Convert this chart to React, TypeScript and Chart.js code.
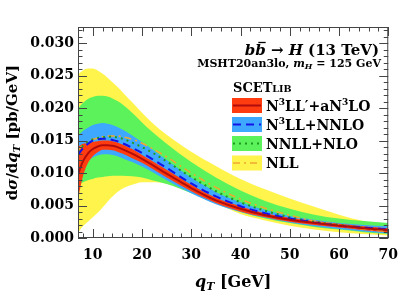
import React, { useEffect, useRef } from "react";
import { Chart, registerables } from "chart.js";
Chart.register(...registerables);

// ---- data ----
const qT = [7, 8, 9, 10, 11, 12, 13, 14, 15, 16, 18, 20, 22, 25, 30, 35, 40, 45, 50, 55, 60, 65, 70];

const n3llpCentral = [0.0098, 0.0118, 0.0130, 0.0137, 0.0141, 0.0143, 0.0143, 0.0142, 0.0140, 0.0137, 0.0130, 0.0122, 0.0113, 0.0099, 0.0077, 0.0058, 0.0045, 0.0035, 0.0028, 0.0023, 0.0019, 0.0015, 0.0012];
const n3llpUpper = [0.0140, 0.0145, 0.0146, 0.0148, 0.0149, 0.0150, 0.0150, 0.0149, 0.0147, 0.0144, 0.0137, 0.0128, 0.0119, 0.0105, 0.0082, 0.0062, 0.0049, 0.0038, 0.0031, 0.0026, 0.0022, 0.0018, 0.0015];
const n3llpLower = [0.0060, 0.0095, 0.0115, 0.0126, 0.0132, 0.0136, 0.0136, 0.0135, 0.0133, 0.0130, 0.0123, 0.0116, 0.0107, 0.0093, 0.0072, 0.0054, 0.0041, 0.0032, 0.0025, 0.0020, 0.0016, 0.0012, 0.0009];

const n3llCentral = [0.0128, 0.0138, 0.0145, 0.0150, 0.0152, 0.0153, 0.0153, 0.0151, 0.0149, 0.0146, 0.0139, 0.0131, 0.0122, 0.0108, 0.0084, 0.0064, 0.0049, 0.0038, 0.0030, 0.0024, 0.0019, 0.0016, 0.0013];
const n3llUpper = [0.0158, 0.0165, 0.0170, 0.0174, 0.0176, 0.0177, 0.0176, 0.0174, 0.0171, 0.0167, 0.0158, 0.0148, 0.0137, 0.0120, 0.0093, 0.0071, 0.0055, 0.0043, 0.0034, 0.0028, 0.0023, 0.0020, 0.0018];
const n3llLower = [0.0095, 0.0108, 0.0118, 0.0124, 0.0127, 0.0129, 0.0129, 0.0128, 0.0126, 0.0123, 0.0117, 0.0110, 0.0102, 0.0089, 0.0069, 0.0052, 0.0040, 0.0031, 0.0024, 0.0018, 0.0014, 0.0010, 0.0007];

const nnllCentral = [0.0133, 0.0142, 0.0148, 0.0152, 0.0154, 0.0155, 0.0156, 0.0156, 0.0155, 0.0153, 0.0147, 0.0140, 0.0132, 0.0118, 0.0094, 0.0072, 0.0055, 0.0042, 0.0032, 0.0025, 0.0020, 0.0016, 0.0012];
const nnllUpper = [0.0200, 0.0208, 0.0214, 0.0217, 0.0219, 0.0219, 0.0218, 0.0215, 0.0211, 0.0206, 0.0193, 0.0178, 0.0164, 0.0145, 0.0117, 0.0093, 0.0073, 0.0057, 0.0045, 0.0036, 0.0030, 0.0026, 0.0023];
const nnllLower = [0.0082, 0.0086, 0.0089, 0.0091, 0.0093, 0.0094, 0.0095, 0.0096, 0.0096, 0.0096, 0.0095, 0.0093, 0.0089, 0.0083, 0.0069, 0.0053, 0.0040, 0.0030, 0.0023, 0.0017, 0.0013, 0.0009, 0.0006];

const nllCentral = [0.0135, 0.0143, 0.0149, 0.0152, 0.0154, 0.0156, 0.0157, 0.0157, 0.0157, 0.0156, 0.0152, 0.0146, 0.0138, 0.0125, 0.0100, 0.0078, 0.0060, 0.0046, 0.0035, 0.0026, 0.0020, 0.0014, 0.0010];
const nllUpper = [0.0252, 0.0258, 0.0261, 0.0261, 0.0258, 0.0253, 0.0247, 0.0240, 0.0233, 0.0225, 0.0209, 0.0193, 0.0178, 0.0159, 0.0133, 0.0111, 0.0091, 0.0075, 0.0061, 0.0048, 0.0036, 0.0026, 0.0019];
const nllLower = [0.0008, 0.0018, 0.0025, 0.0032, 0.0039, 0.0047, 0.0056, 0.0064, 0.0071, 0.0076, 0.0082, 0.0086, 0.0086, 0.0084, 0.0072, 0.0054, 0.0037, 0.0027, 0.0019, 0.0013, 0.0009, 0.0006, 0.0004];

const xTickValues = [10, 20, 30, 40, 50, 60, 70];
const yTickValues = [0, 0.005, 0.01, 0.015, 0.02, 0.025, 0.03];

// ---- styles ----
const SERIF = "'DejaVu Serif', serif";
const F = (size: number, italic = false) => `${italic ? "italic " : ""}bold ${size}px ${SERIF}`;

const C = {
  redBand: "#ff3c10",
  redLine: "#b00c0c",
  blueBand: "#3ea8ff",
  blueLine: "#1414e6",
  greenBand: "#5cf25c",
  greenLine: "#1e9a1e",
  yellowBand: "#fff44c",
  yellowLine: "#f0a830",
};

type Seg = { t: string; f: string; dy?: number; bar?: boolean };

function segWidth(ctx: CanvasRenderingContext2D, segs: Seg[]) {
  let w = 0;
  for (const s of segs) {
    ctx.font = s.f;
    w += ctx.measureText(s.t).width;
  }
  return w;
}

function drawSegs(ctx: CanvasRenderingContext2D, segs: Seg[], x: number, y: number, align: "left" | "right" | "center") {
  const w = segWidth(ctx, segs);
  let cx = align === "left" ? x : align === "right" ? x - w : x - w / 2;
  ctx.textAlign = "left";
  ctx.textBaseline = "alphabetic";
  for (const s of segs) {
    ctx.font = s.f;
    const sw = ctx.measureText(s.t).width;
    ctx.fillText(s.t, cx, y + (s.dy || 0));
    if (s.bar) {
      ctx.save();
      ctx.lineWidth = 1.3;
      ctx.strokeStyle = "#000";
      ctx.beginPath();
      ctx.moveTo(cx + sw * 0.3, y - 12.5);
      ctx.lineTo(cx + sw * 1.0, y - 12.5);
      ctx.stroke();
      ctx.restore();
    }
    cx += sw;
  }
}

const decorPlugin = {
  id: "decor",
  afterDraw(chart: any) {
    const ctx: CanvasRenderingContext2D = chart.ctx;
    const { left, right, top, bottom } = chart.chartArea;
    const xs = chart.scales.x;
    const ys = chart.scales.y;
    ctx.save();
    ctx.fillStyle = "#000";

    // frame + inward ticks
    ctx.strokeStyle = "#444";
    ctx.lineWidth = 1;
    ctx.strokeRect(left + 0.5, top + 0.5, right - left - 1, bottom - top - 1);
    ctx.beginPath();
    for (let v = 8; v <= 70; v += 2) {
      const px = Math.round(xs.getPixelForValue(v)) + 0.5;
      const len = v % 10 === 0 ? 9 : 4.5;
      ctx.moveTo(px, bottom);
      ctx.lineTo(px, bottom - len);
      ctx.moveTo(px, top);
      ctx.lineTo(px, top + len);
    }
    for (let k = 0; k <= 32; k++) {
      const v = k * 0.001;
      const py = Math.round(ys.getPixelForValue(v)) + 0.5;
      const len = k % 5 === 0 ? 9 : 4.5;
      ctx.moveTo(left, py);
      ctx.lineTo(left + len, py);
      ctx.moveTo(right, py);
      ctx.lineTo(right - len, py);
    }
    ctx.stroke();

    // x axis title
    drawSegs(
      ctx,
      [
        { t: "q", f: F(16, true) },
        { t: "T", f: F(11, true), dy: 3 },
        { t: " [GeV]", f: F(16) },
      ],
      (left + right) / 2,
      287,
      "center"
    );

    // y axis title
    ctx.save();
    ctx.translate(17, (top + bottom) / 2);
    ctx.rotate(-Math.PI / 2);
    drawSegs(
      ctx,
      [
        { t: "d", f: F(15) },
        { t: "σ", f: F(15, true) },
        { t: "/d", f: F(15) },
        { t: "q", f: F(15, true) },
        { t: "T", f: F(10, true), dy: 3 },
        { t: " [pb/GeV]", f: F(15) },
      ],
      0,
      0,
      "center"
    );
    ctx.restore();

    // process title
    drawSegs(
      ctx,
      [
        { t: "b", f: F(15, true) },
        { t: "b", f: F(15, true), bar: true },
        { t: " → ", f: F(15) },
        { t: "H", f: F(15, true) },
        { t: " (13 TeV)", f: F(15) },
      ],
      379,
      55,
      "right"
    );
    drawSegs(
      ctx,
      [
        { t: "MSHT20an3lo, ", f: F(11) },
        { t: "m", f: F(11, true) },
        { t: "H", f: F(8, true), dy: 2 },
        { t: " = 125 GeV", f: F(11) },
      ],
      381,
      67,
      "right"
    );

    // legend
    drawSegs(
      ctx,
      [
        { t: "SCET", f: F(13) },
        { t: "LIB", f: F(9.5) },
      ],
      233,
      92,
      "left"
    );
    const entries = [
      { band: C.redBand, line: C.redLine, dash: [] as number[], lw: 2, y: 105.5,
        segs: [
          { t: "N", f: F(14) }, { t: "3", f: F(9), dy: -6 }, { t: "LL′+aN", f: F(14) }, { t: "3", f: F(9), dy: -6 }, { t: "LO", f: F(14) },
        ] },
      { band: C.blueBand, line: C.blueLine, dash: [8, 5], lw: 2, y: 124.5,
        segs: [
          { t: "N", f: F(14) }, { t: "3", f: F(9), dy: -6 }, { t: "LL+NNLO", f: F(14) },
        ] },
      { band: C.greenBand, line: C.greenLine, dash: [2, 4], lw: 2, y: 143.5,
        segs: [{ t: "NNLL+NLO", f: F(14) }] },
      { band: C.yellowBand, line: C.yellowLine, dash: [7, 4, 2, 4], lw: 1.6, y: 163,
        segs: [{ t: "NLL", f: F(14) }] },
    ];
    for (const e of entries) {
      ctx.fillStyle = e.band;
      ctx.fillRect(232, e.y - 7.5, 30, 15);
      ctx.strokeStyle = e.line;
      ctx.lineWidth = e.lw;
      ctx.setLineDash(e.dash);
      ctx.beginPath();
      ctx.moveTo(233, e.y);
      ctx.lineTo(261, e.y);
      ctx.stroke();
      ctx.setLineDash([]);
      ctx.fillStyle = "#000";
      drawSegs(ctx, e.segs, 266, e.y + 5, "left");
    }
    ctx.restore();
  },
};

export default function App() {
  const ref = useRef<HTMLCanvasElement>(null);
  useEffect(() => {
    document.body.style.margin = "0";
    const pts = (ys: number[]) => qT.map((x, i) => ({ x, y: ys[i] }));
    const common = { pointRadius: 0, cubicInterpolationMode: "monotone" as const };
    const band = (hi: number[], lo: number[], color: string, order: number) => [
      { ...common, data: pts(hi), borderColor: "rgba(0,0,0,0)", borderWidth: 0, backgroundColor: color, fill: "+1", order },
      { ...common, data: pts(lo), borderColor: "rgba(0,0,0,0)", borderWidth: 0, fill: false, order },
    ];
    const line = (ys: number[], color: string, dash: number[], width: number, order: number) => ({
      ...common,
      data: pts(ys),
      borderColor: color,
      borderWidth: width,
      borderDash: dash,
      fill: false,
      order,
    });
    const chart = new Chart(ref.current as HTMLCanvasElement, {
      type: "line",
      data: {
        datasets: [
          ...band(nllUpper, nllLower, C.yellowBand, 20),
          ...band(nnllUpper, nnllLower, C.greenBand, 19),
          ...band(n3llUpper, n3llLower, C.blueBand, 18),
          ...band(n3llpUpper, n3llpLower, C.redBand, 17),
          line(nllCentral, C.yellowLine, [7, 4, 2, 4], 1.6, 4),
          line(nnllCentral, C.greenLine, [2, 4], 2, 3),
          line(n3llCentral, C.blueLine, [8, 5], 2, 2),
          line(n3llpCentral, C.redLine, [], 2, 1),
        ] as any,
      },
      options: {
        animation: false,
        responsive: false,
        events: [],
        layout: { padding: { left: 0, right: 12, top: 27, bottom: 0 } },
        plugins: {
          legend: { display: false },
          tooltip: { enabled: false },
          filler: { drawTime: "beforeDatasetDraw" } as any,
        },
        scales: {
          x: {
            type: "linear",
            min: 7,
            max: 70,
            grid: { display: false, drawTicks: false },
            border: { display: false },
            afterBuildTicks: (s: any) => {
              s.ticks = xTickValues.map((v) => ({ value: v }));
            },
            afterFit: (s: any) => {
              s.height = 58;
            },
            ticks: {
              padding: 9,
              color: "#000",
              font: { family: SERIF, weight: "bold", size: 14 },
              maxRotation: 0,
              callback: (v: any) => String(v),
            },
          },
          y: {
            type: "linear",
            min: 0,
            max: 0.0325,
            grid: { display: false, drawTicks: false },
            border: { display: false },
            afterBuildTicks: (s: any) => {
              s.ticks = yTickValues.map((v) => ({ value: v }));
            },
            afterFit: (s: any) => {
              s.width = 78;
            },
            ticks: {
              padding: 4,
              color: "#000",
              font: { family: SERIF, weight: "bold", size: 14 },
              callback: (v: any) => Number(v).toFixed(3),
            },
          },
        },
      },
      plugins: [decorPlugin],
    });
    return () => chart.destroy();
  }, []);
  return <canvas ref={ref} width={407} height={296} style={{ display: "block" }} />;
}
